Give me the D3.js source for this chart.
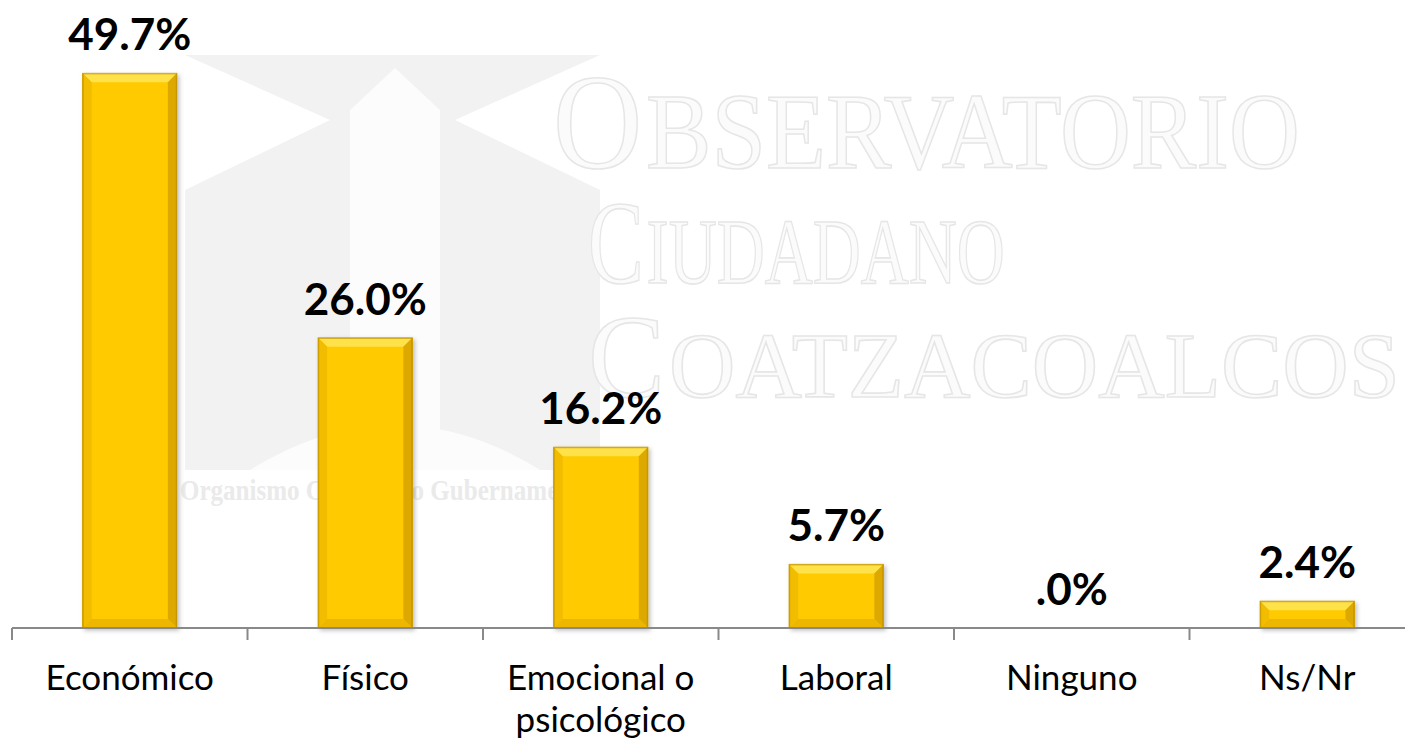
<!DOCTYPE html>
<html>
<head>
<meta charset="utf-8">
<script src="https://cdn.jsdelivr.net/npm/d3@7"></script>
<style>
  body { margin: 0; background: #fff; }
  svg { display: block; }
</style>
</head>
<body>
<div id="chart"></div>
<script>
// data
var categories = ["Económico", "Físico", "Emocional o psicológico", "Laboral", "Ninguno", "Ns/Nr"];
var values = [49.7, 26.0, 16.2, 5.7, 0.0, 2.4];
var valueLabels = ["49.7%", "26.0%", "16.2%", "5.7%", ".0%", "2.4%"];
var categoryLines = [["Económico"], ["Físico"], ["Emocional o", "psicológico"], ["Laboral"], ["Ninguno"], ["Ns/Nr"]];

var width = 1405, height = 741;
var baseY = 628;

var svg = d3.select("#chart").append("svg")
    .attr("width", width)
    .attr("height", height);

var defs = svg.append("defs");
var shadow = defs.append("filter").attr("id", "shadow")
    .attr("x", "-20%").attr("y", "-20%").attr("width", "140%").attr("height", "140%");
shadow.append("feDropShadow")
    .attr("dx", 2).attr("dy", 2).attr("stdDeviation", 2)
    .attr("flood-color", "#000").attr("flood-opacity", 0.25);

// faint watermark (logo) behind the chart
var wm = svg.append("g");
wm.append("path")
    .attr("d", "M185,190 L330,120 L185,55 L600,55 L455,120 L600,190 L600,470 L185,470 Z")
    .attr("fill", "#f2f2f2");
wm.append("path")
    .attr("d", "M395,68 L440,110 L440,440 L350,440 L350,110 Z")
    .attr("fill", "#fcfcfc");
wm.append("path")
    .attr("d", "M250,470 Q395,380 540,470 Z")
    .attr("fill", "#fcfcfc");

// watermark words: big first letter, then the rest, squeezed to the picture's width
var wmWords = [
  {first: "O", rest: "BSERVATORIO", x: 553, y: 168, big: 136, small: 108, right: 1300},
  {first: "C", rest: "IUDADANO", x: 588, y: 283, big: 118, small: 94, right: 1005},
  {first: "C", rest: "OATZACOALCOS", x: 588, y: 397, big: 118, small: 94, right: 1400}
];
wmWords.forEach(function(w) {
  var line = wm.append("g");
  var style = function(sel) {
    sel.style("font-family", "'Liberation Serif', 'DejaVu Serif', serif")
       .attr("fill", "#fbfbfb")
       .attr("stroke", "#e6e6e6")
       .attr("stroke-width", 1.6);
  };
  var a = line.append("text").attr("x", 0).attr("y", 0)
      .style("font-size", w.big + "px").call(style).text(w.first);
  var aw = a.node().getComputedTextLength();
  var b = line.append("text").attr("x", aw + 4).attr("y", 0)
      .style("font-size", w.small + "px").call(style).text(w.rest);
  var total = aw + 4 + b.node().getComputedTextLength();
  var sx = (w.right - w.x) / total;
  line.attr("transform", "translate(" + w.x + "," + w.y + ") scale(" + sx + ",1)");
});
wm.append("text")
    .attr("x", 180).attr("y", 500)
    .attr("textLength", 420).attr("lengthAdjust", "spacingAndGlyphs")
    .style("font-family", "'Liberation Serif', serif")
    .style("font-size", "30px")
    .style("font-weight", "bold")
    .attr("fill", "#eaeaea")
    .text("Organismo Ciudadano Gubernamental");

// scales
var x = d3.scaleBand()
    .domain(categories)
    .range([12, 1425])
    .paddingInner(0.6)
    .paddingOuter(0.3);

var xEdge = d3.scaleLinear()
    .domain([0, categories.length])
    .range([12, 1425]);

var y = d3.scaleLinear()
    .domain([0, 50])
    .range([baseY, 70]);

// bars with bevel
var bars = svg.append("g").selectAll("g.bar")
    .data(values)
    .join("g")
    .attr("class", "bar")
    .filter(function(d) { return d > 0; });

bars.each(function(d) {
  var idx = values.indexOf(d);
  var g = d3.select(this);
  var x0 = x(categories[idx]), w = x.bandwidth();
  var y0 = y(d), h = baseY - y0;
  var b = Math.min(9, h / 3);

  g.append("rect")
      .attr("x", x0).attr("y", y0)
      .attr("width", w).attr("height", h)
      .attr("fill", "#FFCA00")
      .attr("stroke", "#C99A00")
      .attr("stroke-width", 1)
      .attr("filter", "url(#shadow)");
  // top bevel
  g.append("path")
      .attr("d", "M" + x0 + "," + y0 + " L" + (x0 + w) + "," + y0 +
                 " L" + (x0 + w - b) + "," + (y0 + b) + " L" + (x0 + b) + "," + (y0 + b) + " Z")
      .attr("fill", "#FFE24A");
  // left bevel
  g.append("path")
      .attr("d", "M" + x0 + "," + y0 + " L" + (x0 + b) + "," + (y0 + b) +
                 " L" + (x0 + b) + "," + (baseY - b) + " L" + x0 + "," + baseY + " Z")
      .attr("fill", "#F2BC00");
  // right bevel
  g.append("path")
      .attr("d", "M" + (x0 + w) + "," + y0 + " L" + (x0 + w - b) + "," + (y0 + b) +
                 " L" + (x0 + w - b) + "," + (baseY - b) + " L" + (x0 + w) + "," + baseY + " Z")
      .attr("fill", "#DDA800");
  // bottom bevel
  g.append("path")
      .attr("d", "M" + x0 + "," + baseY + " L" + (x0 + b) + "," + (baseY - b) +
                 " L" + (x0 + w - b) + "," + (baseY - b) + " L" + (x0 + w) + "," + baseY + " Z")
      .attr("fill", "#EDB700");
  g.append("rect")
      .attr("x", x0 + 0.5).attr("y", y0 + 0.5)
      .attr("width", w - 1).attr("height", h - 1)
      .attr("fill", "none")
      .attr("stroke", "#B88C00")
      .attr("stroke-opacity", 0.7);
});

// axis line and ticks
var axis = svg.append("g").attr("stroke", "#898989").attr("stroke-width", 2);
axis.append("line")
    .attr("x1", 12).attr("x2", width)
    .attr("y1", baseY).attr("y2", baseY);
axis.selectAll("line.tick")
    .data(d3.range(categories.length))
    .join("line")
    .attr("class", "tick")
    .attr("x1", function(d) { return xEdge(d); })
    .attr("x2", function(d) { return xEdge(d); })
    .attr("y1", baseY).attr("y2", baseY + 12);

// value labels
svg.append("g").selectAll("text")
    .data(values)
    .join("text")
    .attr("x", function(d, i) { return x(categories[i]) + x.bandwidth() / 2; })
    .attr("y", function(d) { return y(d) - 23; })
    .attr("text-anchor", "middle")
    .style("font-family", "Lato, 'Open Sans', sans-serif")
    .style("font-weight", "bold")
    .style("font-size", "44px")
    .style("fill", "#000")
    .text(function(d, i) { return valueLabels[i]; });

// category labels
var cat = svg.append("g").selectAll("text")
    .data(categoryLines)
    .join("text")
    .attr("x", function(d, i) { return x(categories[i]) + x.bandwidth() / 2; })
    .attr("y", 690)
    .attr("text-anchor", "middle")
    .style("font-family", "Lato, 'Open Sans', sans-serif")
    .style("font-size", "35px")
    .style("fill", "#000");
cat.each(function(lines, i) {
  var t = d3.select(this);
  var cx = x(categories[i]) + x.bandwidth() / 2;
  lines.forEach(function(l, k) {
    t.append("tspan").attr("x", cx).attr("dy", k === 0 ? 0 : 42).text(l);
  });
});
</script>
</body>
</html>
